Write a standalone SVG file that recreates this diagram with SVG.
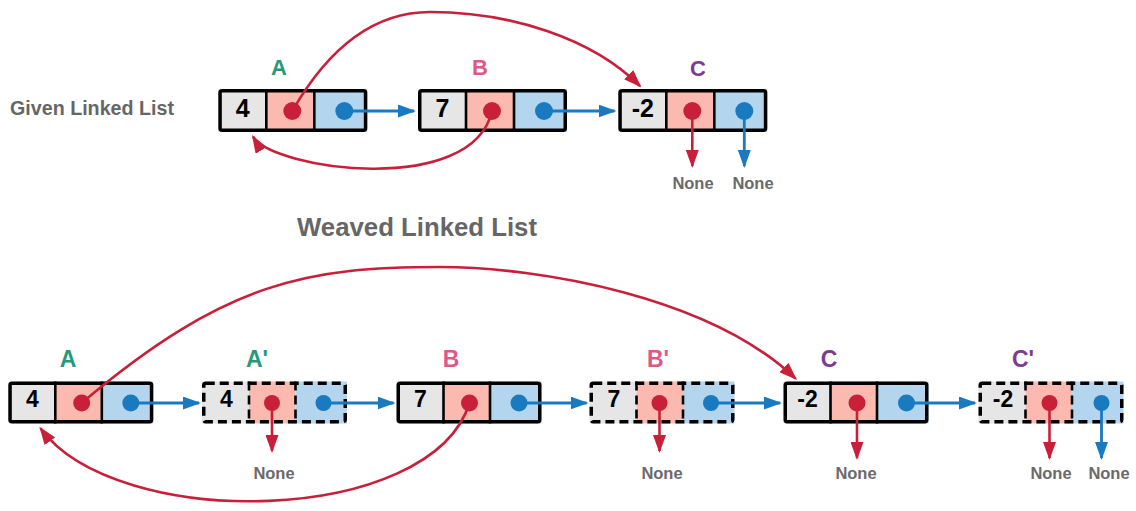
<svg xmlns="http://www.w3.org/2000/svg" width="1136" height="511" viewBox="0 0 1136 511">
<defs>
<style>
.bg{fill:#ffffff}
.cg{fill:#e6e6e6}
.cp{fill:#fcb9b0}
.cb{fill:#b3d6ee}
.bx{fill:none;stroke:#000;stroke-width:3.5}
.dv{stroke:#000;stroke-width:2.6}
.ds{stroke-dasharray:9 5}
.dr{fill:#c8203b}
.db{fill:#1a7abf}
.val{font-family:"Liberation Sans",Arial,sans-serif;font-weight:bold;fill:#000;text-anchor:middle}
.lbl{font-family:"Liberation Sans",Arial,sans-serif;font-weight:bold;text-anchor:middle}
.la{fill:#26997a}
.lb{fill:#e0588a}
.lc{fill:#7d3c8f}
.none{font-family:"Liberation Sans",Arial,sans-serif;font-weight:bold;font-size:16.5px;fill:#6a6a6a;text-anchor:middle}
.ttl{font-family:"Liberation Sans",Arial,sans-serif;font-weight:bold;fill:#666666}
.lr{fill:none;stroke:#c8203b;stroke-width:2.6}
.lbl2{fill:none;stroke:#1a7abf;stroke-width:2.8}
</style>
<marker id="ar" markerUnits="userSpaceOnUse" markerWidth="18" markerHeight="13" viewBox="0 0 18 13" refX="16" refY="6.5" orient="auto"><path d="M0,0 L18,6.5 L0,13 Z" fill="#c8203b"/></marker>
<marker id="ab" markerUnits="userSpaceOnUse" markerWidth="18" markerHeight="13" viewBox="0 0 18 13" refX="16" refY="6.5" orient="auto"><path d="M0,0 L18,6.5 L0,13 Z" fill="#1a7abf"/></marker>
</defs>
<rect class="bg" x="0" y="0" width="1136" height="511"/>

<text class="ttl" x="10" y="114.5" font-size="19.5" textLength="164" lengthAdjust="spacingAndGlyphs">Given Linked List</text>
<text class="ttl" x="297" y="236" font-size="25" textLength="240" lengthAdjust="spacingAndGlyphs">Weaved Linked List</text>

<!-- top row -->
<g id="top-A">
<text class="lbl la" x="279" y="75" font-size="22">A</text>
<g transform="translate(218.3,89)">
<rect class="cg" x="0" y="0" width="48" height="43"/><rect class="cp" x="48" y="0" width="48" height="43"/><rect class="cb" x="96" y="0" width="53" height="43"/>
<line class="dv" x1="48" y1="0" x2="48" y2="43"/><line class="dv" x1="96" y1="0" x2="96" y2="43"/>
<rect class="bx" x="1.75" y="1.75" width="145.5" height="39.5" rx="2"/>
<text class="val" x="24.5" y="27.7" font-size="25">4</text>
<circle class="dr" cx="74" cy="22" r="9"/><circle class="db" cx="126" cy="22" r="9"/>
</g>
</g>
<g id="top-B">
<text class="lbl lb" x="480" y="75" font-size="22">B</text>
<g transform="translate(418,89)">
<rect class="cg" x="0" y="0" width="48" height="43"/><rect class="cp" x="48" y="0" width="48" height="43"/><rect class="cb" x="96" y="0" width="53" height="43"/>
<line class="dv" x1="48" y1="0" x2="48" y2="43"/><line class="dv" x1="96" y1="0" x2="96" y2="43"/>
<rect class="bx" x="1.75" y="1.75" width="145.5" height="39.5" rx="2"/>
<text class="val" x="24.5" y="27.7" font-size="25">7</text>
<circle class="dr" cx="74" cy="22" r="9"/><circle class="db" cx="126" cy="22" r="9"/>
</g>
</g>
<g id="top-C">
<text class="lbl lc" x="698" y="76" font-size="22">C</text>
<g transform="translate(618.3,89)">
<rect class="cg" x="0" y="0" width="48" height="43"/><rect class="cp" x="48" y="0" width="48" height="43"/><rect class="cb" x="96" y="0" width="53" height="43"/>
<line class="dv" x1="48" y1="0" x2="48" y2="43"/><line class="dv" x1="96" y1="0" x2="96" y2="43"/>
<rect class="bx" x="1.75" y="1.75" width="145.5" height="39.5" rx="2"/>
<text class="val" x="24.5" y="27.7" font-size="25">-2</text>
<circle class="dr" cx="74" cy="22" r="9"/><circle class="db" cx="126" cy="22" r="9"/>
</g>
</g>

<!-- bottom row -->
<g id="bot-A">
<text class="lbl la" x="68" y="367" font-size="23">A</text>
<g transform="translate(8.3,381.5)">
<rect class="cg" x="0" y="0" width="47" height="42"/><rect class="cp" x="47" y="0" width="46.5" height="42"/><rect class="cb" x="93.5" y="0" width="51.5" height="42"/>
<line class="dv" x1="47" y1="0" x2="47" y2="42"/><line class="dv" x1="93.5" y1="0" x2="93.5" y2="42"/>
<rect class="bx" x="1.75" y="1.75" width="141.5" height="38.5" rx="2"/>
<text class="val" x="24" y="25.5" font-size="23">4</text>
<circle class="dr" cx="73.4" cy="21.5" r="8.5"/><circle class="db" cx="122.5" cy="21.5" r="8.5"/>
</g>
</g>
<g id="bot-A-copy">
<text class="lbl la" x="257" y="367" font-size="23">A'</text>
<g transform="translate(202,381.5)">
<rect class="cg" x="0" y="0" width="47" height="42"/><rect class="cp" x="47" y="0" width="46.5" height="42"/><rect class="cb" x="93.5" y="0" width="51.5" height="42"/>
<line class="dv ds" x1="47" y1="0" x2="47" y2="42"/><line class="dv ds" x1="93.5" y1="0" x2="93.5" y2="42"/>
<rect class="bx ds" x="1.75" y="1.75" width="141.5" height="38.5" rx="2"/>
<text class="val" x="24.5" y="25.5" font-size="23">4</text>
<circle class="dr" cx="70" cy="21.5" r="8"/><circle class="db" cx="121.5" cy="21.5" r="8"/>
</g>
</g>
<g id="bot-B">
<text class="lbl lb" x="451" y="367" font-size="23">B</text>
<g transform="translate(396.5,381.5)">
<rect class="cg" x="0" y="0" width="47" height="42"/><rect class="cp" x="47" y="0" width="46.5" height="42"/><rect class="cb" x="93.5" y="0" width="51.5" height="42"/>
<line class="dv" x1="47" y1="0" x2="47" y2="42"/><line class="dv" x1="93.5" y1="0" x2="93.5" y2="42"/>
<rect class="bx" x="1.75" y="1.75" width="141.5" height="38.5" rx="2"/>
<text class="val" x="24" y="25.5" font-size="23">7</text>
<circle class="dr" cx="73" cy="21.5" r="8.5"/><circle class="db" cx="122.5" cy="21.5" r="8.5"/>
</g>
</g>
<g id="bot-B-copy">
<text class="lbl lb" x="658" y="367" font-size="23">B'</text>
<g transform="translate(589.5,381.5)">
<rect class="cg" x="0" y="0" width="47" height="42"/><rect class="cp" x="47" y="0" width="46.5" height="42"/><rect class="cb" x="93.5" y="0" width="51.5" height="42"/>
<line class="dv ds" x1="47" y1="0" x2="47" y2="42"/><line class="dv ds" x1="93.5" y1="0" x2="93.5" y2="42"/>
<rect class="bx ds" x="1.75" y="1.75" width="141.5" height="38.5" rx="2"/>
<text class="val" x="24.5" y="25.5" font-size="23">7</text>
<circle class="dr" cx="70" cy="21.5" r="8"/><circle class="db" cx="121.5" cy="21.5" r="8"/>
</g>
</g>
<g id="bot-C">
<text class="lbl lc" x="829" y="367" font-size="23">C</text>
<g transform="translate(783.5,381.5)">
<rect class="cg" x="0" y="0" width="47" height="42"/><rect class="cp" x="47" y="0" width="46.5" height="42"/><rect class="cb" x="93.5" y="0" width="51.5" height="42"/>
<line class="dv" x1="47" y1="0" x2="47" y2="42"/><line class="dv" x1="93.5" y1="0" x2="93.5" y2="42"/>
<rect class="bx" x="1.75" y="1.75" width="141.5" height="38.5" rx="2"/>
<text class="val" x="24" y="25.5" font-size="23">-2</text>
<circle class="dr" cx="73.5" cy="21.5" r="8.5"/><circle class="db" cx="123" cy="21.5" r="8.5"/>
</g>
</g>
<g id="bot-C-copy">
<text class="lbl lc" x="1023" y="367" font-size="23">C'</text>
<g transform="translate(978.5,381.5)">
<rect class="cg" x="0" y="0" width="47" height="42"/><rect class="cp" x="47" y="0" width="46.5" height="42"/><rect class="cb" x="93.5" y="0" width="51.5" height="42"/>
<line class="dv ds" x1="47" y1="0" x2="47" y2="42"/><line class="dv ds" x1="93.5" y1="0" x2="93.5" y2="42"/>
<rect class="bx ds" x="1.75" y="1.75" width="141.5" height="38.5" rx="2"/>
<text class="val" x="24.5" y="25.5" font-size="23">-2</text>
<circle class="dr" cx="71" cy="21.5" r="8"/><circle class="db" cx="123" cy="21.5" r="8"/>
</g>
</g>

<g id="connectors">
<!-- top row -->
<path class="lbl2" d="M344,111 H414" marker-end="url(#ab)"/>
<path class="lbl2" d="M544,111 H614.5" marker-end="url(#ab)"/>
<path class="lr" d="M292.3,111 C317,68 360,12 430,12 C510,12 592,38 640,86" marker-end="url(#ar)"/>
<path class="lr" d="M492,111 C472,198 272.6,169.3 253,136.7" marker-end="url(#ar)"/>
<path class="lr" d="M692.3,111 V166" marker-end="url(#ar)"/>
<path class="lbl2" d="M744.3,111 V166" marker-end="url(#ab)"/>
<!-- bottom row -->
<path class="lbl2" d="M130.8,403 H199" marker-end="url(#ab)"/>
<path class="lbl2" d="M323.5,403 H393.5" marker-end="url(#ab)"/>
<path class="lbl2" d="M519,403 H586.5" marker-end="url(#ab)"/>
<path class="lbl2" d="M711,403 H780" marker-end="url(#ab)"/>
<path class="lbl2" d="M906.5,403 H975" marker-end="url(#ab)"/>
<path class="lr" d="M81.7,403 C227,280 310,267 440,267 C540,267 710,297 795.6,378.6" marker-end="url(#ar)"/>
<path class="lr" d="M469.5,403 C431,526.5 116,532 40.5,428.3" marker-end="url(#ar)"/>
<path class="lr" d="M272,403 V451" marker-end="url(#ar)"/>
<path class="lr" d="M659.5,403 V451" marker-end="url(#ar)"/>
<path class="lr" d="M857,403 V458" marker-end="url(#ar)"/>
<path class="lr" d="M1049.5,403 V458" marker-end="url(#ar)"/>
<path class="lbl2" d="M1101.5,403 V458" marker-end="url(#ab)"/>
</g>

<g id="none-labels">
<text class="none" x="693" y="189">None</text>
<text class="none" x="753" y="189">None</text>
<text class="none" x="274" y="479">None</text>
<text class="none" x="662" y="479">None</text>
<text class="none" x="856" y="479">None</text>
<text class="none" x="1051" y="479">None</text>
<text class="none" x="1109" y="479">None</text>
</g>
</svg>
